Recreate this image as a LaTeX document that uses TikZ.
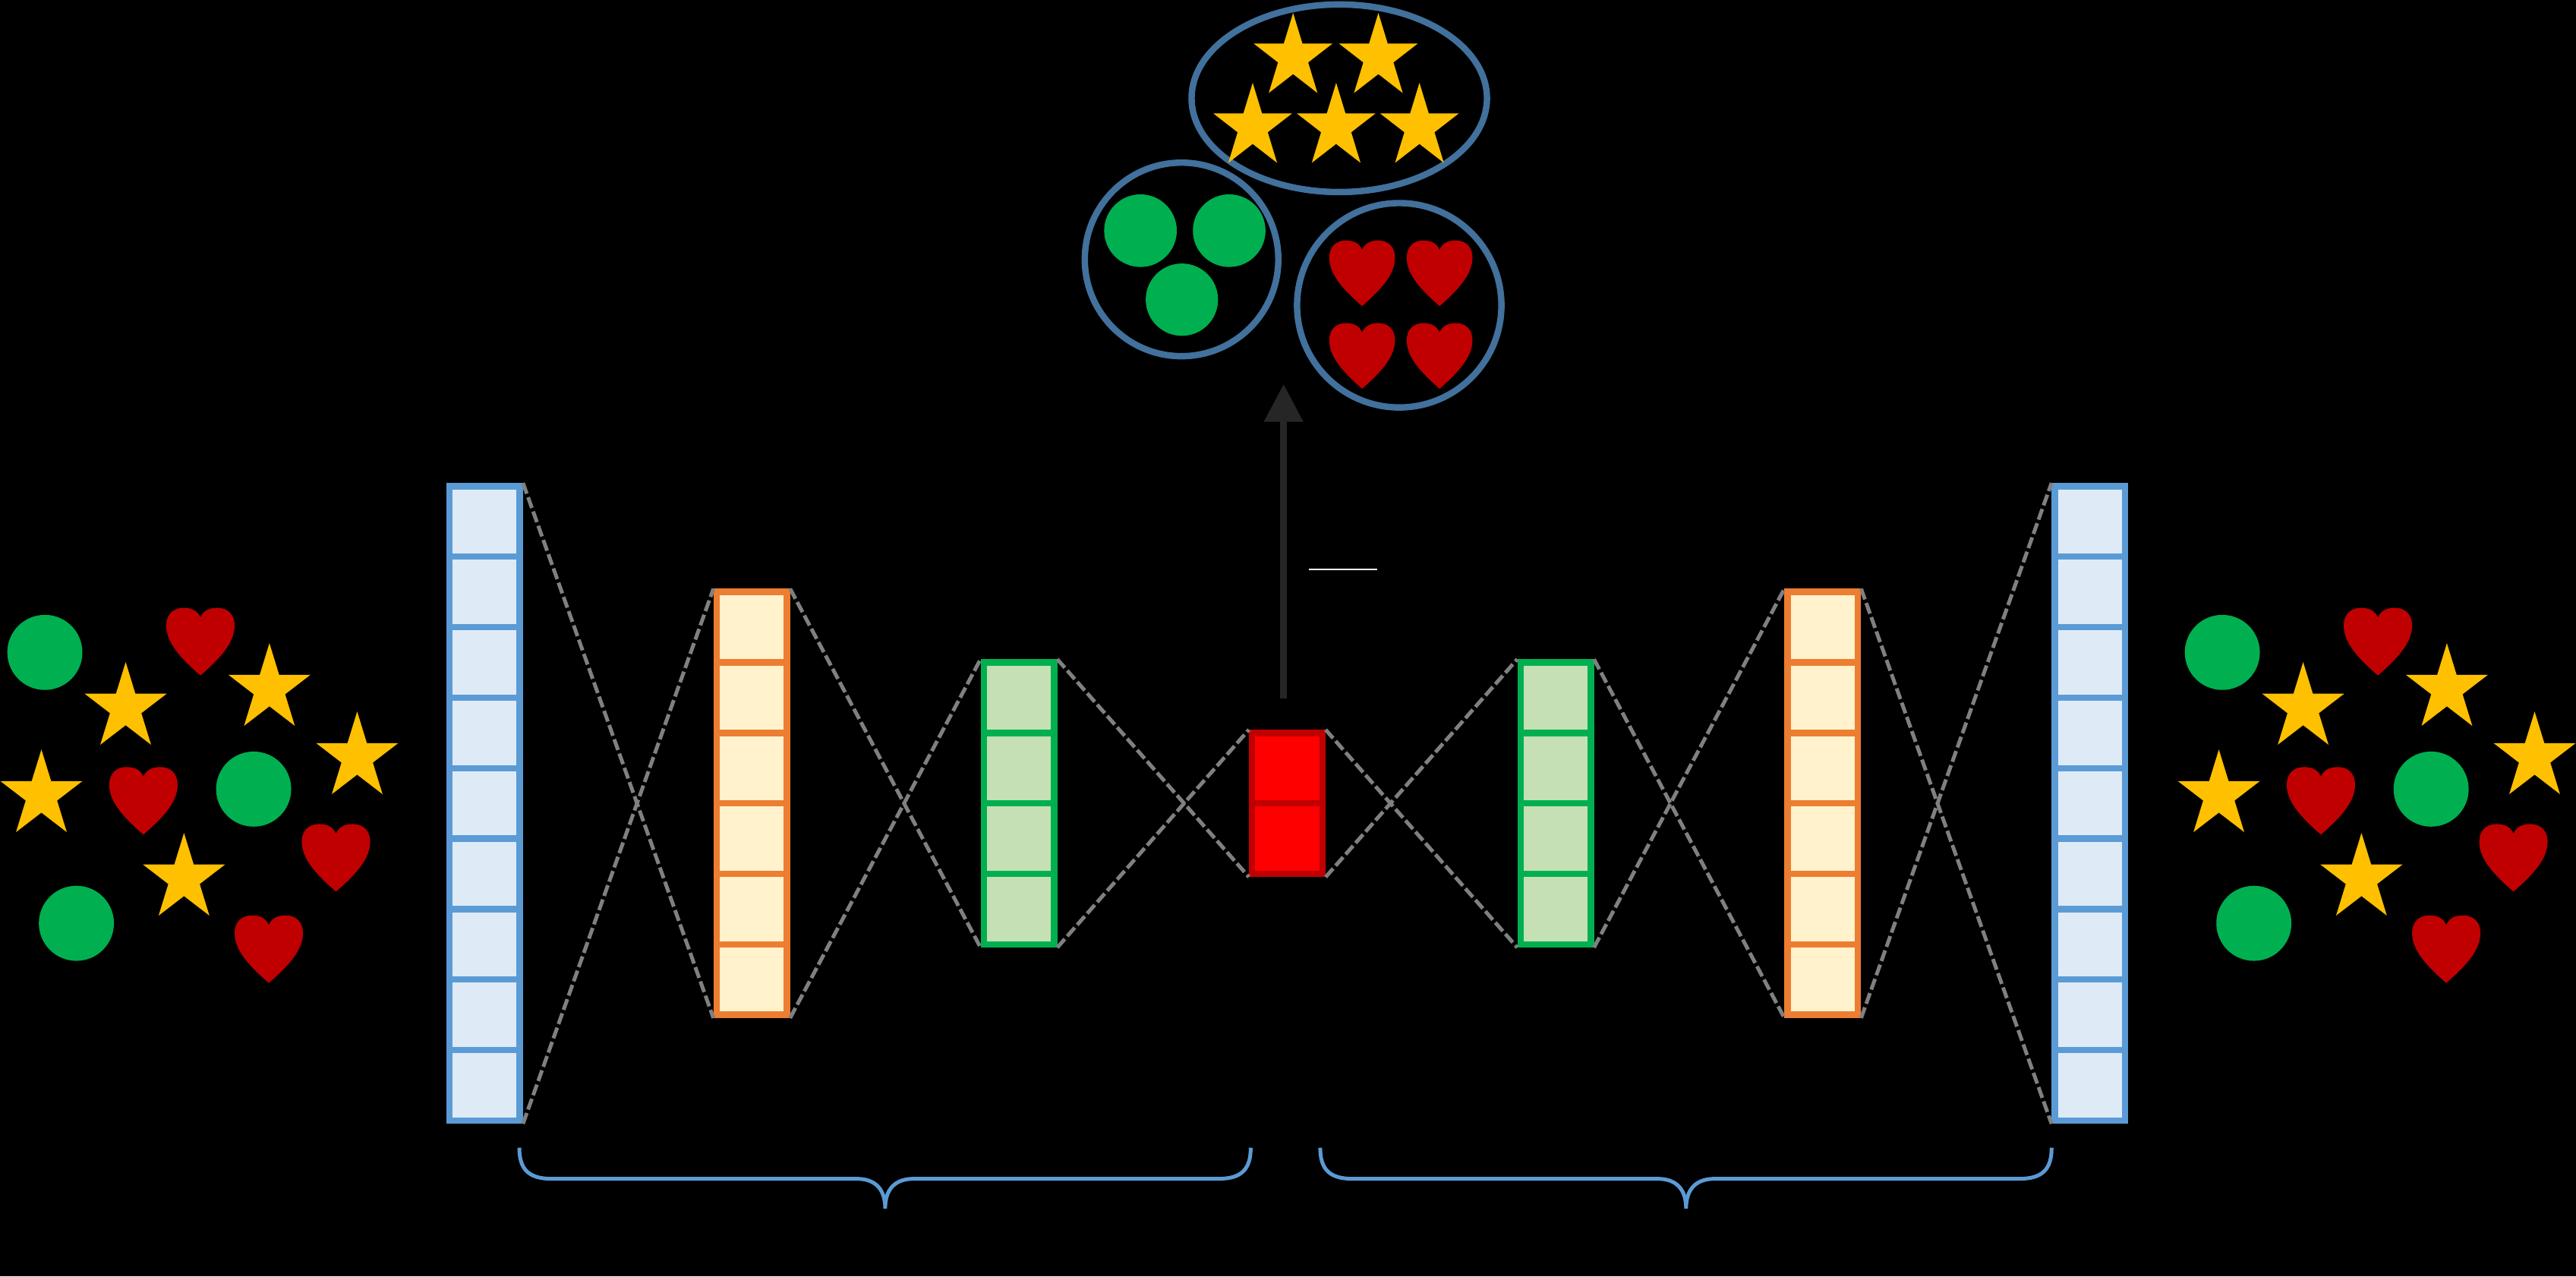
\documentclass[tikz,border=0pt]{standalone}
\usetikzlibrary{arrows.meta,calc}
\definecolor{bluebd}{HTML}{5B9BD5}
\definecolor{bluefill}{HTML}{DEEBF7}
\definecolor{orabd}{HTML}{ED7D31}
\definecolor{orafill}{HTML}{FFF2CC}
\definecolor{grnbd}{HTML}{00B050}
\definecolor{grnfill}{HTML}{C5E0B4}
\definecolor{redbd}{HTML}{C00000}
\definecolor{redfill}{HTML}{FF0000}
\definecolor{clusc}{HTML}{41719C}
\definecolor{starcol}{HTML}{FFC000}
\definecolor{heartcol}{HTML}{C00000}
\definecolor{dotcol}{HTML}{00B050}
\definecolor{dashcol}{HTML}{808080}
\definecolor{arrowcol}{HTML}{262626}

\newcommand\nnlayer[5]{% name, cx, n, fill, draw
  \node[layerbox, draw=#5, fill=#4, minimum height=#3*42.9pt] (#1) at (#2,489) {};
  \pgfmathsetmacro\ltop{489-#3*42.9/2}
  \foreach \i in {1,...,#3}{\ifnum\i<#3 \draw[#5, line width=3.9pt] ({#2-21.4},{\ltop+\i*42.9}) -- ({#2+21.4},{\ltop+\i*42.9});\fi}
}
\newcommand\mystar[4]{% cx, top, w, h
  \fill[starcol, shift={(#1,#2)}, xscale=#3, yscale=#4]
    (0,0) -- (-0.118,0.382) -- (-0.5,0.382) -- (-0.191,0.618) -- (-0.309,1)
    -- (0,0.764) -- (0.309,1) -- (0.191,0.618) -- (0.5,0.382) -- (0.118,0.382) -- cycle;
}
\newcommand\myheart[4]{% cx, top, w, h
  \fill[heartcol, shift={(#1,#2)}, xscale=#3, yscale=#4]
    (0,0.14) .. controls (0.05,0.03) and (0.14,0) .. (0.25,0)
    .. controls (0.4,0) and (0.5,0.1) .. (0.5,0.26)
    .. controls (0.5,0.5) and (0.32,0.72) .. (0,1)
    .. controls (-0.32,0.72) and (-0.5,0.5) .. (-0.5,0.26)
    .. controls (-0.5,0.1) and (-0.4,0) .. (-0.25,0)
    .. controls (-0.14,0) and (-0.05,0.03) .. (0,0.14) -- cycle;
}
\newcommand\shapegroup{%
  \fill[dotcol] (27.3,397.1) circle[radius=22.85];
  \fill[dotcol] (154.4,480.3) circle[radius=22.85];
  \fill[dotcol] (46.5,562.0) circle[radius=22.85];
  \myheart{122.0}{370.0}{41.6}{41.1}
  \myheart{87.3}{466.9}{41.6}{41.1}
  \myheart{204.5}{501.6}{41.6}{41.1}
  \myheart{163.6}{557.2}{41.6}{41.1}
  \mystar{76.5}{403.0}{50}{50.3}
  \mystar{164.0}{391.5}{50}{50.3}
  \mystar{217.4}{433.1}{50}{50.3}
  \mystar{25.2}{456.2}{50}{50.3}
  \mystar{112.0}{507.0}{50}{50.3}
}

\begin{document}
\begin{tikzpicture}[x=1pt,y=-1pt,
  layerbox/.style={rectangle, line width=3.9pt, minimum width=42.8pt, inner sep=0pt},
  conn/.style={draw=dashcol, line width=2.3pt, dash pattern=on 6.9pt off 2.3pt},
  clus/.style={draw=clusc, line width=3.9pt},
  bracec/.style={draw=bluebd, line width=2.3pt},
  arrowc/.style={draw=arrowcol, line width=4pt, -{Triangle[length=23pt,width=23pt]}}]
\fill[black] (0,0) rectangle (1568,777);
\useasboundingbox (0,0) rectangle (1568,777);

% layers
\nnlayer{bl}{295.0}{9}{bluefill}{bluebd}
\nnlayer{or}{457.6}{6}{orafill}{orabd}
\nnlayer{gr}{620.2}{4}{grnfill}{grnbd}
\nnlayer{rd}{783.55}{2}{redfill}{redbd}
\nnlayer{gr2}{946.9}{4}{grnfill}{grnbd}
\nnlayer{or2}{1109.5}{6}{orafill}{orabd}
\nnlayer{bl2}{1272.1}{9}{bluefill}{bluebd}

% dashed connections
\draw[conn] (bl.north east) -- (or.south west);
\draw[conn] (bl.south east) -- (or.north west);
\draw[conn] (or.north east) -- (gr.south west);
\draw[conn] (or.south east) -- (gr.north west);
\draw[conn] (gr.north east) -- (rd.south west);
\draw[conn] (gr.south east) -- (rd.north west);
\draw[conn] (rd.north east) -- (gr2.south west);
\draw[conn] (rd.south east) -- (gr2.north west);
\draw[conn] (gr2.north east) -- (or2.south west);
\draw[conn] (gr2.south east) -- (or2.north west);
\draw[conn] (or2.north east) -- (bl2.south west);
\draw[conn] (or2.south east) -- (bl2.north west);

% arrow to clusters
\coordinate (arrS) at (781.3,425);
\coordinate (arrE) at (781.3,233.8);
\draw[arrowc] (arrS) -- (arrE);
\draw[white, line width=0.6pt] (796.7,346.6) -- (838.2,346.6);

% clusters
\draw[clus] (815.2,59.8) ellipse [x radius=89.9, y radius=57.1];
\mystar{787.1}{7.9}{48}{48.7}
\mystar{839.0}{7.9}{48}{48.7}
\mystar{762.5}{50.4}{48}{48.7}
\mystar{813.3}{50.4}{48}{48.7}
\mystar{864.0}{50.4}{48}{48.7}
\draw[clus] (719.2,157.9) circle[radius=58.9];
\fill[dotcol] (694.2,140.4) circle[radius=22.1];
\fill[dotcol] (748.2,140.4) circle[radius=22.1];
\fill[dotcol] (719.4,182.4) circle[radius=22.0];
\draw[clus] (851.7,185.8) circle[radius=62.2];
\myheart{829.1}{146.4}{40}{39.9}
\myheart{876.25}{146.4}{40}{39.9}
\myheart{829.1}{196.7}{40}{39.9}
\myheart{876.25}{196.7}{40}{39.9}

% input / output samples
\begin{scope}
\shapegroup
\end{scope}
\begin{scope}[shift={(1325.4,0)}]
\shapegroup
\end{scope}

% braces
\draw[bracec] (316.1,698.6) .. controls (316.1,712) and (322,717.5) .. (335.8,717.5)
  -- (521.4,717.5) .. controls (533,717.5) and (538.8,724) .. (538.8,735.6)
  .. controls (538.8,724) and (544.6,717.5) .. (556.2,717.5)
  -- (741.6,717.5) .. controls (755.4,717.5) and (761.3,712) .. (761.3,698.6);
\draw[bracec] (803.6,698.6) .. controls (803.6,712) and (809.5,717.5) .. (823.3,717.5)
  -- (1008.9,717.5) .. controls (1020.5,717.5) and (1026.3,724) .. (1026.3,735.6)
  .. controls (1026.3,724) and (1032.1,717.5) .. (1043.7,717.5)
  -- (1229.1,717.5) .. controls (1242.9,717.5) and (1248.8,712) .. (1248.8,698.6);
\end{tikzpicture}
\end{document}
